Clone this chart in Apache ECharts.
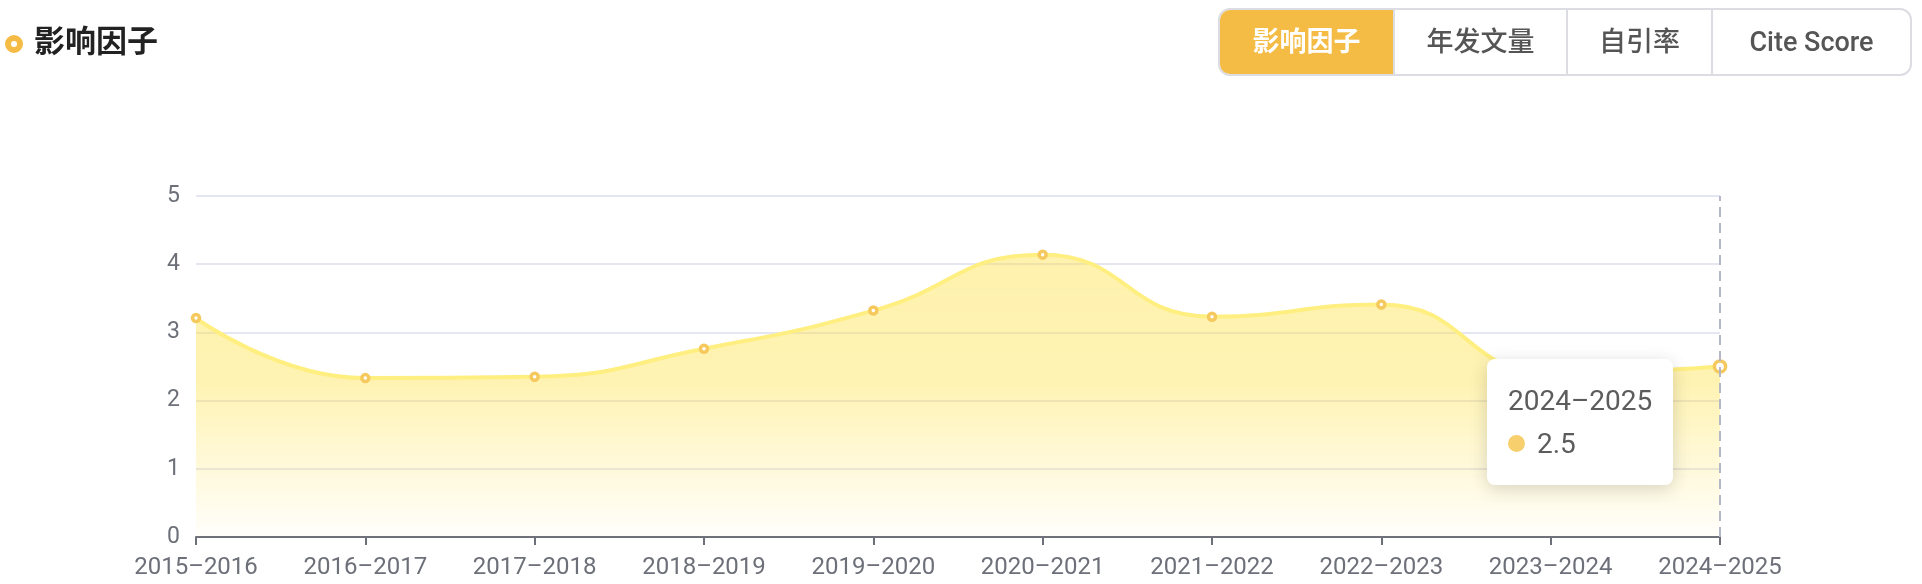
<!DOCTYPE html>
<html>
<head>
<meta charset="utf-8">
<title>影响因子</title>
<script src="https://cdn.jsdelivr.net/npm/echarts@6/dist/echarts.min.js"></script>
<style>
  html, body { margin: 0; padding: 0; background: #fff; }
  body { width: 1922px; height: 584px; position: relative; overflow: hidden;
         font-family: Roboto, "Noto Sans CJK SC", sans-serif; }
  #chart { position: absolute; left: 0; top: 0; width: 1922px; height: 584px; }
  .title-dot { position: absolute; left: 5px; top: 34.5px; width: 6px; height: 6px;
               border: 6px solid #f4bc44; border-radius: 50%; z-index: 2; }
  .title { position: absolute; left: 34px; top: 26px; font-size: 31px; line-height: 31px;
           font-weight: 700; color: #222; z-index: 2; }
  .tabs { position: absolute; left: 1218px; top: 8px; height: 68px; display: flex;
          border: 2px solid #dcdde2; border-radius: 12px; overflow: hidden;
          box-sizing: border-box; z-index: 2; }
  .tab { height: 64px; line-height: 64px; text-align: center; font-size: 27px;
         font-weight: 500; color: #555; box-sizing: border-box;
         border-left: 2px solid #dcdde2; }
  .tab:first-child { border-left: none; }
  .tab.active { background: #f4bc44; color: #fff; font-weight: 600; }
</style>
</head>
<body>
<span class="title-dot"></span>
<div class="title">影响因子</div>
<div class="tabs" id="tabs"></div>
<div id="chart"></div>
<script>
const tabLabels = ['影响因子', '年发文量', '自引率', 'Cite Score']
const tabWidths = [173, 173, 145, 199]

const categories = [
  '2015–2016', '2016–2017', '2017–2018', '2018–2019', '2019–2020',
  '2020–2021', '2021–2022', '2022–2023', '2023–2024', '2024–2025'
]
const impactFactor = [3.21, 2.33, 2.35, 2.76, 3.32, 4.14, 3.23, 3.41, 2.4, 2.5]

const yMin = 0
const yMax = 5
const yStep = 1

const tabs = document.getElementById('tabs')
tabLabels.forEach((label, i) => {
  const el = document.createElement('div')
  el.className = 'tab' + (i === 0 ? ' active' : '')
  el.style.width = tabWidths[i] + 'px'
  el.textContent = label
  tabs.appendChild(el)
})

const font = 'Roboto, "Noto Sans CJK SC", sans-serif'

const chart = echarts.init(document.getElementById('chart'))

const option = {
  animation: false,
  grid: { left: 196, right: 202, top: 196, bottom: 47, containLabel: false },
  tooltip: {
    trigger: 'axis',
    alwaysShowContent: true,
    transitionDuration: 0,
    backgroundColor: '#fff',
    borderWidth: 0,
    borderRadius: 8,
    padding: [20, 21],
    extraCssText: 'box-shadow: 0 4px 18px rgba(0,0,0,0.16);',
    textStyle: { color: '#5c5c5c', fontSize: 28, fontFamily: font },
    axisPointer: {
      type: 'line',
      lineStyle: { color: '#b4b7c6', width: 2, type: [10, 6] }
    },
    position: (pt, params, dom, rect, size) => [pt[0] - size.contentSize[0] - 47, pt[1] - 8],
    formatter: (params) => {
      const p = params[0]
      return `<div style="line-height:43px">${p.name}</div>
        <div style="display:flex;align-items:center;line-height:43px">
          <span style="display:inline-block;width:17px;height:17px;border-radius:50%;background:#f7d06d;margin-right:12px"></span>${p.value}
        </div>`
    }
  },
  xAxis: {
    type: 'category',
    data: categories,
    boundaryGap: false,
    axisLine: { lineStyle: { color: '#6e7079', width: 2 } },
    axisTick: { length: 8, lineStyle: { color: '#6e7079', width: 2 } },
    axisLabel: { color: '#6e7079', fontSize: 24, fontFamily: font, margin: 19 },
    splitLine: { show: false }
  },
  yAxis: {
    type: 'value',
    min: yMin,
    max: yMax,
    interval: yStep,
    axisLine: { show: false },
    axisTick: { show: false },
    axisLabel: { color: '#6e7079', fontSize: 23, fontFamily: font, margin: 16 },
    splitLine: { lineStyle: { color: '#e4e6f2', width: 2 } }
  },
  series: [
    {
      name: '影响因子',
      type: 'line',
      data: impactFactor,
      smooth: true,
      symbol: 'circle',
      symbolSize: 7,
      showAllSymbol: true,
      itemStyle: { color: '#ffffff', borderColor: '#f5c95e', borderWidth: 3.5 },
      lineStyle: { color: '#f8da76', width: 4 },
      areaStyle: {
        color: new echarts.graphic.LinearGradient(0, 0, 0, 1, [
          { offset: 0, color: 'rgba(245,204,58,0.6)' },
          { offset: 0.45, color: 'rgba(245,204,58,0.57)' },
          { offset: 1, color: 'rgba(245,204,58,0.03)' }
        ])
      },
      emphasis: { scale: 1.6, lineStyle: { width: 4 } }
    }
  ]
}

chart.setOption(option)
chart.dispatchAction({ type: 'showTip', seriesIndex: 0, dataIndex: categories.length - 1 })
</script>
</body>
</html>
